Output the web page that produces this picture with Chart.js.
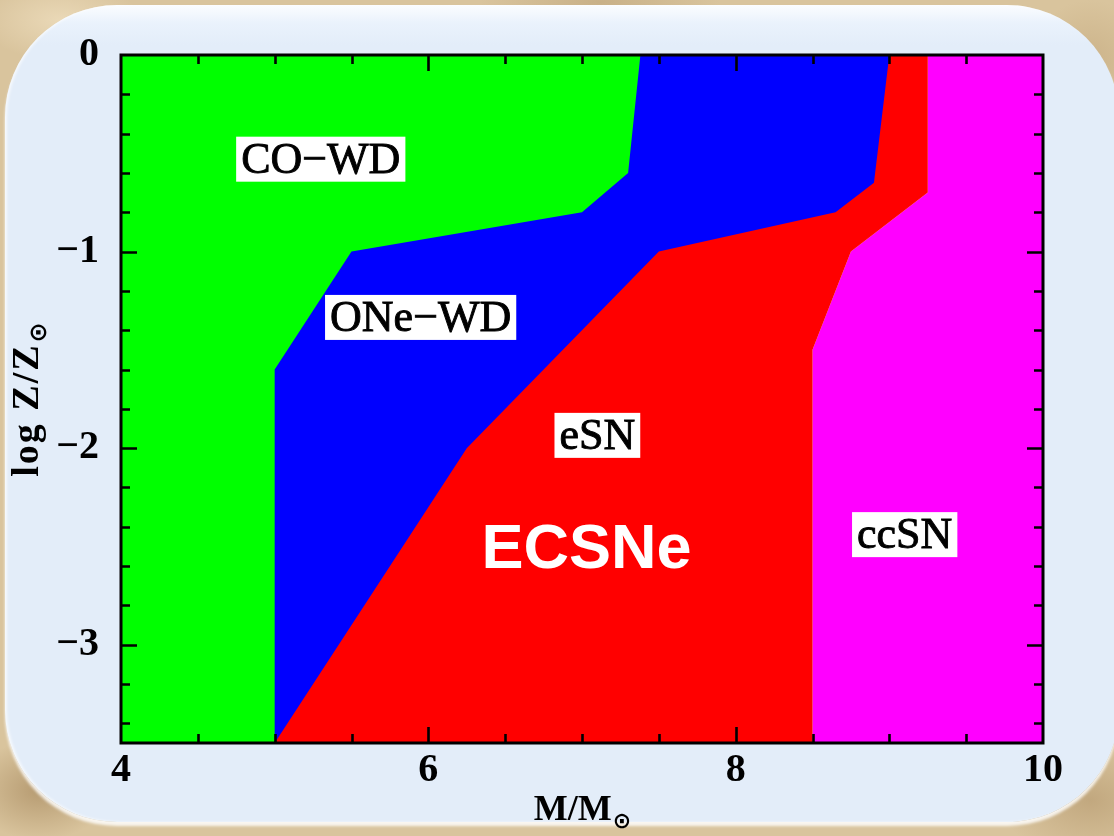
<!DOCTYPE html>
<html>
<head>
<meta charset="utf-8">
<title>Final fate of single stars vs. initial mass and metallicity</title>
<script src="https://cdn.jsdelivr.net/npm/chart.js@4.4.1/dist/chart.umd.min.js"></script>
<style>
  html, body { margin: 0; padding: 0; }
  body {
    width: 1114px; height: 836px; overflow: hidden; position: relative;
    background:
      radial-gradient(ellipse 70px 50px at 40px 790px, rgba(140,105,60,.45), rgba(140,105,60,0)),
      radial-gradient(ellipse 90px 60px at 1090px 800px, rgba(150,115,70,.35), rgba(150,115,70,0)),
      radial-gradient(ellipse 80px 40px at 60px 20px, rgba(245,230,200,.6), rgba(245,230,200,0)),
      radial-gradient(ellipse 120px 30px at 600px 2px, rgba(170,140,95,.35), rgba(170,140,95,0)),
      radial-gradient(ellipse 60px 60px at 1090px 60px, rgba(185,155,110,.4), rgba(185,155,110,0)),
      #d9c49d;
  }
  #panel {
    position: absolute; left: 5px; top: 5px; width: 1114px; height: 817px;
    border-radius: 112px;
    background: linear-gradient(#fbfdff 0px, #eaf2fc 18px, #e3edf9 40px, #e3edf9 100%);
    box-shadow: 0 4px 3px rgba(255,255,255,.85), inset 2px 0 3px rgba(255,255,255,.7);
  }
  #wrap { position: absolute; left: 0; top: 0; width: 1114px; height: 836px; }
</style>
</head>
<body>
<div id="panel"></div>
<div id="wrap"><canvas id="fates"></canvas></div>
<script>
// Axis ranges and labelled ticks
const massRange = [4, 10];          // M / Msun
const metalRange = [-3.5, 0];       // log Z / Zsun
const massTicks = [4, 6, 8, 10];
const metalTicks = [0, -1, -2, -3];
const massMinorStep = 0.5;
const metalMinorStep = 0.2;

// Boundary between CO white dwarfs and ONe white dwarfs
const coOneMass  = [5.0, 5.0, 5.5, 7.0, 7.3, 7.38];
const coOneMetal = [-3.5, -1.6, -1.0, -0.8, -0.6, 0];

// Boundary between ONe white dwarfs and electron-capture supernovae
const oneEsnMass  = [5.0, 6.25, 7.5, 8.65, 8.9, 9.0];
const oneEsnMetal = [-3.5, -2.0, -1.0, -0.8, -0.65, 0];

// Boundary between electron-capture and core-collapse supernovae
const esnCcsnMass  = [8.5, 8.5, 8.75, 9.25, 9.25];
const esnCcsnMetal = [-3.5, -1.5, -1.0, -0.7, 0];

// Region names and where they sit (mass, log Z)
const regionNames = ['CO\u2212WD', 'ONe\u2212WD', 'eSN', 'ccSN'];
const regionMass  = [5.30, 5.95, 7.10, 9.10];
const regionMetal = [-0.53, -1.335, -1.935, -2.44];
const headline = 'ECSNe';
const headlineAt = [7.03, -2.52];

const SERIF = '"Liberation Serif", "Times New Roman", serif';

const pts = (ms, zs) => ms.map((m, i) => ({ x: m, y: zs[i] }));

const edgeSet = (label, ms, zs, color, fillTo) => ({
  label,
  data: pts(ms, zs),
  borderWidth: 0,
  borderColor: color,
  backgroundColor: color,
  pointRadius: 0,
  tension: 0,
  fill: { value: fillTo }
});

const fmt = v => (v < 0 ? '\u2212' + Math.abs(v) : String(v));

// Frame with inward major/minor ticks on all four sides
const framePlugin = {
  id: 'frame',
  afterDatasetsDraw(chart) {
    const { ctx, chartArea: a, scales: { x, y } } = chart;
    ctx.save();
    ctx.strokeStyle = '#000';
    ctx.lineCap = 'butt';
    ctx.lineWidth = 2.6;
    ctx.beginPath();
    const nx = Math.round((massRange[1] - massRange[0]) / massMinorStep);
    for (let i = 1; i < nx; i++) {
      const v = massRange[0] + i * massMinorStep;
      const px = Math.round(x.getPixelForValue(v)) + 0.5;
      const len = massTicks.some(t => Math.abs(t - v) < 1e-9) ? 16 : 9;
      ctx.moveTo(px, a.bottom); ctx.lineTo(px, a.bottom - len);
      ctx.moveTo(px, a.top); ctx.lineTo(px, a.top + len);
    }
    const ny = Math.round((metalRange[1] - metalRange[0]) / metalMinorStep);
    for (let i = 1; i <= ny; i++) {
      const v = metalRange[1] - i * metalMinorStep;
      if (v <= metalRange[0] + 1e-9) break;
      const py = Math.round(y.getPixelForValue(v)) + 0.5;
      const len = metalTicks.some(t => Math.abs(t - v) < 1e-9) ? 16 : 9;
      ctx.moveTo(a.left, py); ctx.lineTo(a.left + len, py);
      ctx.moveTo(a.right, py); ctx.lineTo(a.right - len, py);
    }
    ctx.stroke();
    ctx.lineWidth = 3;
    ctx.strokeRect(a.left, a.top, a.right - a.left, a.bottom - a.top);
    ctx.restore();
  }
};

// Region names in white boxes, plus the highlighted ECSNe tag
const labelPlugin = {
  id: 'regionLabels',
  afterDatasetsDraw(chart) {
    const { ctx, scales: { x, y } } = chart;
    ctx.save();
    ctx.font = '44px ' + SERIF;
    ctx.textAlign = 'center';
    ctx.textBaseline = 'middle';
    ctx.lineWidth = 0.9;
    ctx.strokeStyle = '#000000';
    regionNames.forEach((name, i) => {
      const cx = x.getPixelForValue(regionMass[i]);
      const cy = y.getPixelForValue(regionMetal[i]);
      const w = ctx.measureText(name).width + 10;
      const h = 45;
      ctx.fillStyle = '#ffffff';
      ctx.fillRect(cx - w / 2, cy - h / 2, w, h);
      ctx.fillStyle = '#000000';
      ctx.fillText(name, cx, cy + 2);
      ctx.strokeText(name, cx, cy + 2);
    });
    ctx.font = 'bold 63px "Liberation Sans", Arial, sans-serif';
    ctx.fillStyle = '#ffffff';
    ctx.fillText(headline, x.getPixelForValue(headlineAt[0]), y.getPixelForValue(headlineAt[1]));
    ctx.restore();
  }
};

// Axis titles with a solar-symbol subscript
function titleWithSub(ctx, main, sub, cx, base, size) {
  const mainFont = 'bold ' + size + 'px ' + SERIF;
  const subFont = 'bold ' + Math.round(size * 0.62) + 'px "DejaVu Sans", sans-serif';
  ctx.font = mainFont;
  const w1 = ctx.measureText(main).width;
  ctx.font = subFont;
  const w2 = ctx.measureText(sub).width;
  const x0 = cx - (w1 + w2) / 2;
  ctx.textAlign = 'left';
  ctx.textBaseline = 'alphabetic';
  ctx.font = mainFont;
  ctx.fillText(main, x0, base);
  ctx.font = subFont;
  ctx.fillText(sub, x0 + w1 + 1, base + 8);
}

const titlePlugin = {
  id: 'axisTitles',
  afterDraw(chart) {
    const { ctx, chartArea: a } = chart;
    ctx.save();
    ctx.fillStyle = '#000';
    titleWithSub(ctx, 'M/M', '\u2299', (a.left + a.right) / 2, 820, 36);
    ctx.translate(27, (a.top + a.bottom) / 2);
    ctx.rotate(-Math.PI / 2);
    ctx.letterSpacing = '2px';
    titleWithSub(ctx, 'log Z/Z', '\u2299', 0, 11, 38);
    ctx.restore();
  }
};

new Chart(document.getElementById('fates'), {
  type: 'line',
  data: {
    datasets: [
      edgeSet('CO-WD', coOneMass, coOneMetal, '#00ff00', massRange[0]),
      edgeSet('ONe-WD', oneEsnMass, oneEsnMetal, '#0000ff', massRange[0]),
      edgeSet('eSN', esnCcsnMass, esnCcsnMetal, '#ff0000', massRange[0]),
      edgeSet('ccSN', esnCcsnMass, esnCcsnMetal, '#ff00ff', massRange[1])
    ]
  },
  options: {
    indexAxis: 'y',
    responsive: true,
    maintainAspectRatio: false,
    animation: false,
    events: [],
    layout: { padding: { left: 0, right: 71, top: 55, bottom: 0 } },
    plugins: {
      legend: { display: false },
      tooltip: { enabled: false },
      title: { display: false }
    },
    scales: {
      x: {
        type: 'linear',
        position: 'bottom',
        min: massRange[0],
        max: massRange[1],
        afterBuildTicks: s => { s.ticks = massTicks.map(v => ({ value: v })); },
        afterFit: s => { s.height = 93; },
        grid: { display: false, drawTicks: false },
        border: { display: false },
        ticks: {
          color: '#000',
          padding: 4,
          maxRotation: 0,
          autoSkip: false,
          font: { family: SERIF, size: 40, weight: 'bold' },
          callback: v => fmt(v)
        }
      },
      y: {
        type: 'linear',
        position: 'left',
        min: metalRange[0],
        max: metalRange[1],
        afterBuildTicks: s => { s.ticks = metalTicks.map(v => ({ value: v })); },
        afterFit: s => { s.width = 121; },
        grid: { display: false, drawTicks: false },
        border: { display: false },
        ticks: {
          color: '#000',
          padding: 22,
          autoSkip: false,
          font: { family: SERIF, size: 40, weight: 'bold' },
          callback: v => fmt(v)
        }
      }
    }
  },
  plugins: [framePlugin, labelPlugin, titlePlugin]
});
</script>
</body>
</html>
